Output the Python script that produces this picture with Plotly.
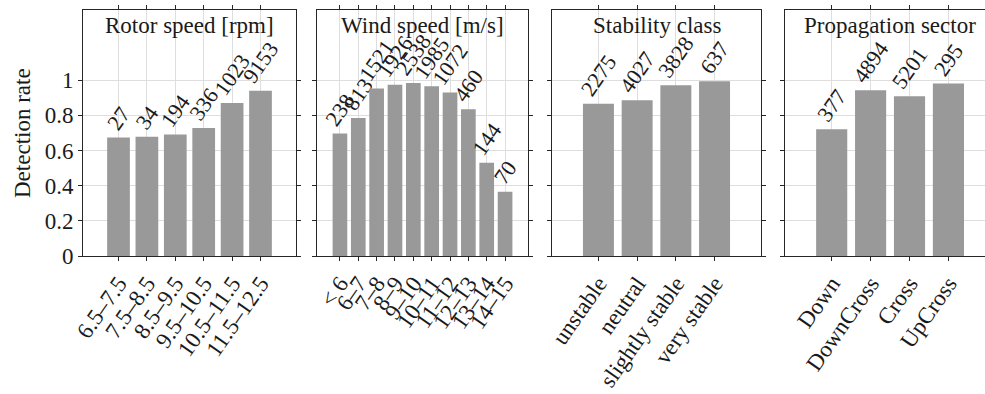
import plotly.graph_objects as go

# ---- data ----
rotor_labels = ["6.5–7.5", "7.5–8.5", "8.5–9.5", "9.5–10.5", "10.5–11.5", "11.5–12.5"]
rotor_rate = [0.674, 0.678, 0.691, 0.729, 0.871, 0.941]
rotor_count = [27, 34, 194, 336, 1023, 9153]

wind_labels = ["< 6", "6–7", "7–8", "8–9", "9–10", "10–11", "11–12", "12–13", "13–14", "14–15"]
wind_rate = [0.697, 0.786, 0.953, 0.975, 0.985, 0.966, 0.930, 0.835, 0.530, 0.366]
wind_count = [238, 813, 1521, 1926, 2538, 1985, 1072, 460, 144, 70]

stab_labels = ["unstable", "neutral", "slightly stable", "very stable"]
stab_rate = [0.867, 0.886, 0.972, 0.994]
stab_count = [2275, 4027, 3828, 637]

prop_labels = ["Down", "DownCross", "Cross", "UpCross"]
prop_rate = [0.722, 0.943, 0.909, 0.981]
prop_count = [377, 4894, 5201, 295]

titles = ["Rotor speed [rpm]", "Wind speed [m/s]", "Stability class", "Propagation sector"]
y_ticks = [0, 0.2, 0.4, 0.6, 0.8, 1]
y_ticktext = ["0", "0.2", "0.4", "0.6", "0.8", "1"]

W, H = 985, 394
FONT = "Liberation Serif"
FS = 23
INK = "#1a1a1a"
AX = "#262626"
GRID = "#dedede"

panels = [
    (rotor_labels, rotor_rate, rotor_count, (83, 296), (-1.25, 6.25), True),
    (wind_labels, wind_rate, wind_count, (317, 528), (-1.25, 10.25), True),
    (stab_labels, stab_rate, stab_count, (552, 761), (-1.2, 4.2), True),
    (prop_labels, prop_rate, prop_count, (785, 985), (-1.2, 3.94), False),
]
title_centers = [189.5, 422.5, 656.5, 890]

top_px, bot_px = 10, 256
ydom = [(H - bot_px) / H, (H - top_px) / H]

fig = go.Figure()
layout = dict(
    width=W, height=H,
    margin=dict(l=0, r=0, t=0, b=0, autoexpand=False),
    paper_bgcolor="white", plot_bgcolor="white",
    showlegend=False,
    font=dict(family=FONT, size=FS, color=INK),
    bargap=0.2,
)
annotations = []
for i, (labels, rate, count, (x0, x1), xr, right_border) in enumerate(panels):
    n = i + 1
    xa = "x" if n == 1 else f"x{n}"
    ya = "y" if n == 1 else f"y{n}"
    fig.add_trace(go.Bar(
        x=labels, y=rate, text=[str(c) for c in count],
        textposition="outside", textangle=-55,
        textfont=dict(family=FONT, size=22, color=INK),
        constraintext="none", cliponaxis=False,
        marker=dict(color="#999999", line=dict(width=0)),
        width=0.8,
        xaxis=xa, yaxis=ya,
    ))
    layout["xaxis" if n == 1 else f"xaxis{n}"] = dict(
        domain=[x0 / W, x1 / W], anchor=ya,
        type="category", range=list(xr),
        tickmode="array", tickvals=labels, ticktext=labels,
        automargin=False,
        showline=True, linecolor=AX, linewidth=1, mirror="ticks",
        ticks="outside", ticklen=4, tickcolor=AX,
        tickangle=-55, tickfont=dict(family=FONT, size=FS, color=INK),
        showgrid=True, gridcolor=GRID, gridwidth=1,
        zeroline=False, fixedrange=True,
    )
    layout["yaxis" if n == 1 else f"yaxis{n}"] = dict(
        domain=ydom, anchor=xa, range=[0, 1.4],
        tickvals=y_ticks, ticktext=y_ticktext,
        showticklabels=(n == 1),
        automargin=False,
        showline=True, linecolor=AX, linewidth=1,
        mirror="ticks" if right_border else False,
        ticks="outside", ticklen=4, tickcolor=AX,
        tickfont=dict(family=FONT, size=FS, color=INK),
        showgrid=True, gridcolor=GRID, gridwidth=1,
        zeroline=False, fixedrange=True,
    )
    annotations.append(dict(
        text=titles[i], xref="paper", yref="paper",
        x=title_centers[i] / W, y=(H - 25) / H,
        xanchor="center", yanchor="middle", showarrow=False,
        font=dict(family=FONT, size=FS, color=INK),
    ))

annotations.append(dict(
    text="Detection rate", xref="paper", yref="paper",
    x=23 / W, y=(H - 133) / H, textangle=-90,
    xanchor="center", yanchor="middle", showarrow=False,
    font=dict(family=FONT, size=FS, color=INK),
))

layout["annotations"] = annotations
fig.update_layout(**layout)
fig.write_html("out.html")
